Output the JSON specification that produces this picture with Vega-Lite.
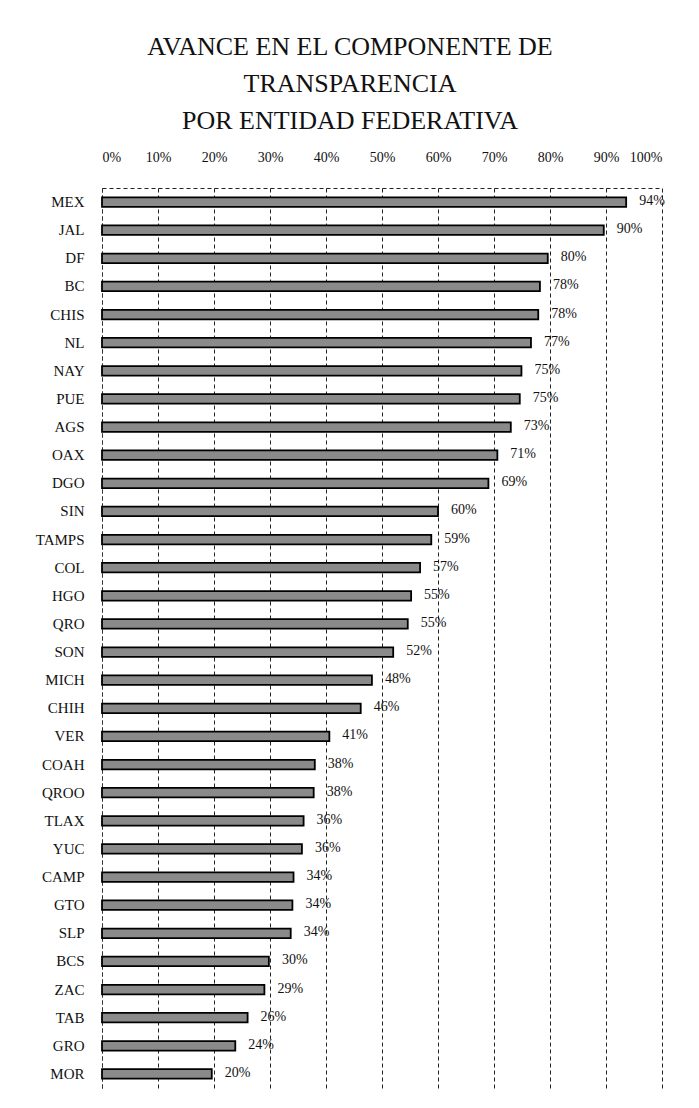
{
  "$schema": "https://vega.github.io/schema/vega-lite/v6.json",
  "width": 560,
  "height": 900,
  "autosize": "none",
  "padding": {"left": 102, "top": 188, "right": 37, "bottom": 20},
  "background": "white",
  "title": {
    "text": ["AVANCE EN EL COMPONENTE DE", "TRANSPARENCIA", "POR ENTIDAD FEDERATIVA"],
    "font": "Liberation Serif",
    "fontSize": 26,
    "fontWeight": "normal",
    "lineHeight": 37,
    "anchor": "middle",
    "frame": "bounds",
    "offset": 16,
    "color": "#111111"
  },
  "config": {
    "view": {"stroke": null},
    "font": "Liberation Serif"
  },
  "data": {
    "values": [
      {"estado": "MEX", "avance": 0.936},
      {"estado": "JAL", "avance": 0.896},
      {"estado": "DF", "avance": 0.796},
      {"estado": "BC", "avance": 0.782},
      {"estado": "CHIS", "avance": 0.779},
      {"estado": "NL", "avance": 0.766},
      {"estado": "NAY", "avance": 0.749},
      {"estado": "PUE", "avance": 0.746},
      {"estado": "AGS", "avance": 0.73},
      {"estado": "OAX", "avance": 0.706},
      {"estado": "DGO", "avance": 0.69},
      {"estado": "SIN", "avance": 0.6},
      {"estado": "TAMPS", "avance": 0.588},
      {"estado": "COL", "avance": 0.568},
      {"estado": "HGO", "avance": 0.552},
      {"estado": "QRO", "avance": 0.546},
      {"estado": "SON", "avance": 0.52},
      {"estado": "MICH", "avance": 0.482},
      {"estado": "CHIH", "avance": 0.462},
      {"estado": "VER", "avance": 0.406},
      {"estado": "COAH", "avance": 0.38},
      {"estado": "QROO", "avance": 0.378},
      {"estado": "TLAX", "avance": 0.36},
      {"estado": "YUC", "avance": 0.357},
      {"estado": "CAMP", "avance": 0.342},
      {"estado": "GTO", "avance": 0.34},
      {"estado": "SLP", "avance": 0.337},
      {"estado": "BCS", "avance": 0.298},
      {"estado": "ZAC", "avance": 0.29},
      {"estado": "TAB", "avance": 0.26},
      {"estado": "GRO", "avance": 0.238},
      {"estado": "MOR", "avance": 0.196}
    ]
  },
  "encoding": {
    "y": {
      "field": "estado",
      "type": "nominal",
      "sort": null,
      "scale": {"paddingInner": 0.66, "paddingOuter": 0.33},
      "axis": {
        "title": null,
        "ticks": false,
        "domain": true,
        "domainColor": "#333333",
        "domainDash": [4, 3],
        "labelFont": "Liberation Serif",
        "labelFontSize": 15,
        "labelColor": "#111111",
        "labelPadding": 18
      }
    },
    "x": {
      "field": "avance",
      "type": "quantitative",
      "scale": {"domain": [0, 1], "nice": false},
      "axis": {
        "orient": "top",
        "title": null,
        "format": ".0%",
        "values": [0, 0.1, 0.2, 0.3, 0.4, 0.5, 0.6, 0.7, 0.8, 0.9, 1],
        "ticks": false,
        "grid": true,
        "gridColor": "#222222",
        "gridDash": [4, 3],
        "gridOpacity": 1,
        "gridWidth": 1,
        "domain": true,
        "domainColor": "#222222",
        "domainDash": [4, 3],
        "labelFont": "Liberation Serif",
        "labelFontSize": 14,
        "labelColor": "#111111",
        "labelPadding": 24
      }
    }
  },
  "layer": [
    {
      "mark": {"type": "bar", "fill": "#8a8a8a", "stroke": "#000000", "strokeWidth": 1.8}
    },
    {
      "mark": {
        "type": "text",
        "align": "left",
        "baseline": "middle",
        "dx": 13,
        "dy": -1,
        "font": "Liberation Serif",
        "fontSize": 14,
        "color": "#111111"
      },
      "encoding": {
        "text": {"field": "avance", "type": "quantitative", "format": ".0%"}
      }
    }
  ]
}
